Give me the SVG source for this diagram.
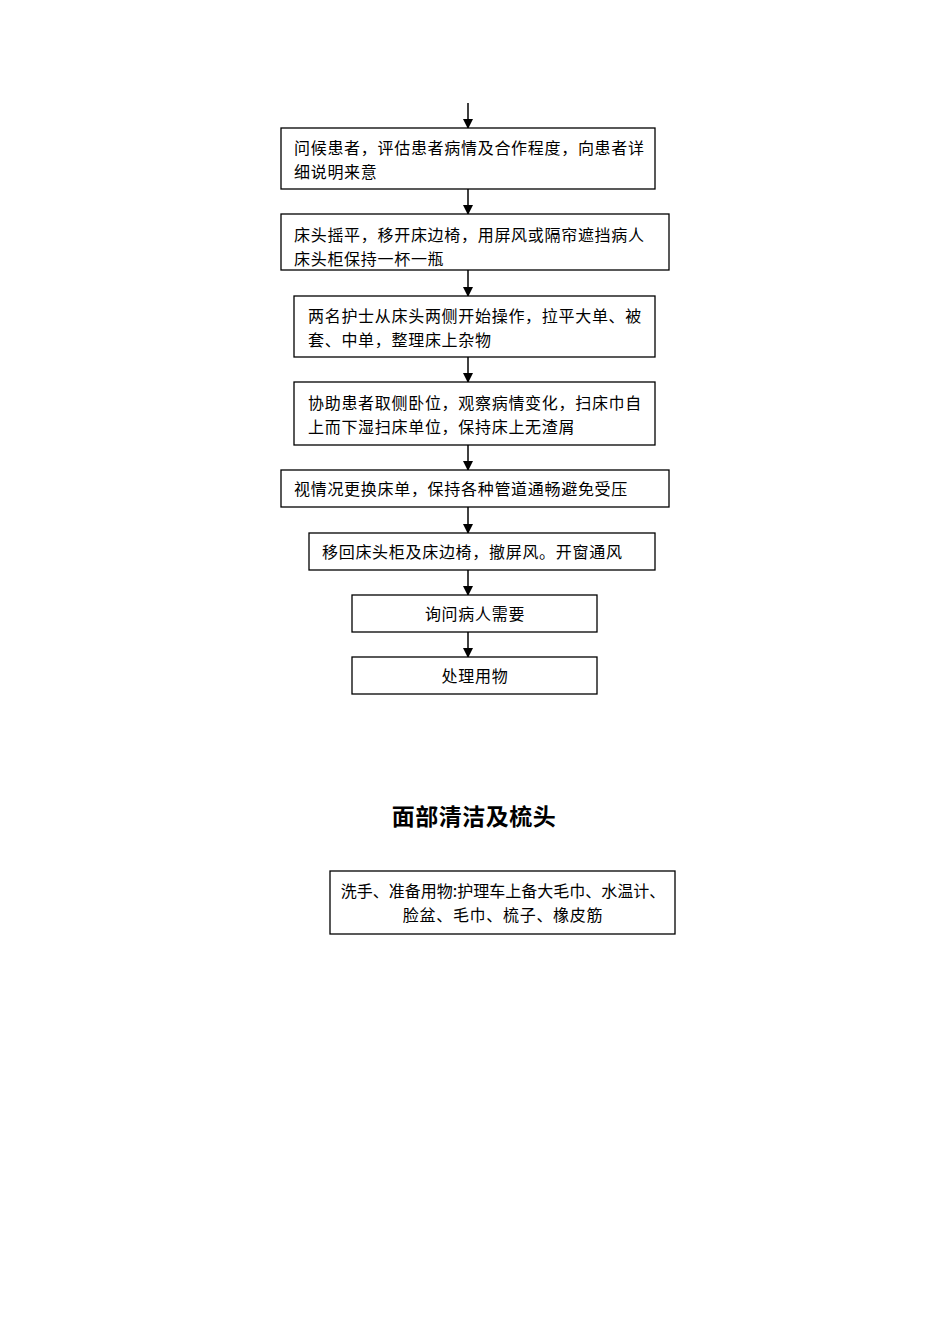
<svg xmlns="http://www.w3.org/2000/svg" width="950" height="1344" viewBox="0 0 950 1344">
<style>
.b{fill:#fff;stroke:#000;stroke-width:1.3}
text{font-family:"Noto Sans CJK SC","Liberation Serif",serif;font-size:16px;fill:#000;letter-spacing:0.7px}
.c{text-anchor:middle}
line{stroke:#000;stroke-width:1.5}
</style>
<defs><marker id="a" markerWidth="10" markerHeight="10" refX="9" refY="5" orient="auto" markerUnits="userSpaceOnUse"><path d="M0,0L10,5L0,10z" fill="#000"/></marker></defs>
<rect width="950" height="1344" fill="#fff"/>
<g id="connectors">
<line x1="468" y1="103" x2="468" y2="128" marker-end="url(#a)"/>
<line x1="468" y1="189" x2="468" y2="214" marker-end="url(#a)"/>
<line x1="468" y1="270" x2="468" y2="296" marker-end="url(#a)"/>
<line x1="468" y1="357" x2="468" y2="382" marker-end="url(#a)"/>
<line x1="468" y1="445" x2="468" y2="470" marker-end="url(#a)"/>
<line x1="468" y1="507" x2="468" y2="533" marker-end="url(#a)"/>
<line x1="468" y1="570" x2="468" y2="595" marker-end="url(#a)"/>
<line x1="468" y1="632" x2="468" y2="657" marker-end="url(#a)"/>
</g>
<g id="n1"><rect class="b" x="281" y="128" width="374" height="61"/><text x="294" y="154">问候患者，评估患者病情及合作程度，向患者详</text><text x="294" y="178">细说明来意</text></g>
<g id="n2"><rect class="b" x="281" y="214" width="388" height="56"/><text x="294" y="241">床头摇平，移开床边椅，用屏风或隔帘遮挡病人</text><text x="294" y="265">床头柜保持一杯一瓶</text></g>
<g id="n3"><rect class="b" x="294" y="296" width="361" height="61"/><text x="308" y="322">两名护士从床头两侧开始操作，拉平大单、被</text><text x="308" y="346">套、中单，整理床上杂物</text></g>
<g id="n4"><rect class="b" x="294" y="382" width="361" height="63"/><text x="308" y="409">协助患者取侧卧位，观察病情变化，扫床巾自</text><text x="308" y="433">上而下湿扫床单位，保持床上无渣屑</text></g>
<g id="n5"><rect class="b" x="281" y="470" width="388" height="37"/><text x="294" y="495">视情况更换床单，保持各种管道通畅避免受压</text></g>
<g id="n6"><rect class="b" x="309" y="533" width="346" height="37"/><text x="322" y="558">移回床头柜及床边椅，撤屏风。开窗通风</text></g>
<g id="n7"><rect class="b" x="352" y="595" width="245" height="37"/><text class="c" x="475" y="620">询问病人需要</text></g>
<g id="n8"><rect class="b" x="352" y="657" width="245" height="37"/><text class="c" x="475" y="682">处理用物</text></g>
<text class="c" x="474" y="825" style="font-size:23px;font-weight:bold;letter-spacing:0.5px">面部清洁及梳头</text>
<g id="n9"><rect class="b" x="330" y="871" width="345" height="63"/><text class="c" x="503" y="897" style="letter-spacing:0">洗手、准备用物:护理车上备大毛巾、水温计、</text><text class="c" x="503" y="921">脸盆、毛巾、梳子、橡皮筋</text></g>
</svg>
